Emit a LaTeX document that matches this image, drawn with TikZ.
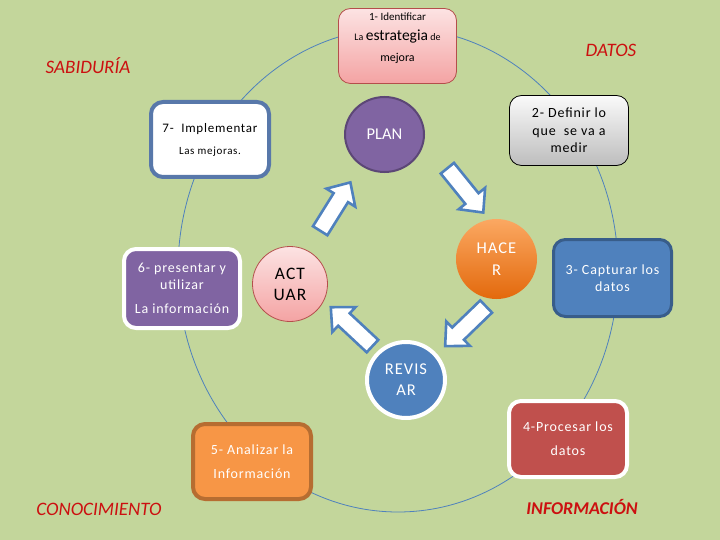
\documentclass[tikz,border=0pt]{standalone}
\usepackage{fontspec}
\setmainfont{Carlito}
\newfontfamily\boxfont[LetterSpace=6]{Carlito}
\usetikzlibrary{shapes.geometric}
\definecolor{bg}{HTML}{C3D69B}
\definecolor{ringblue}{HTML}{4F81BD}
\definecolor{pinkTop}{HTML}{FCE3E3}
\definecolor{pinkBot}{HTML}{F4A3A3}
\definecolor{pinkLine}{HTML}{B44E4B}
\definecolor{implLine}{HTML}{5878AA}
\definecolor{purpleFill}{HTML}{8064A2}
\definecolor{purpleLine}{HTML}{5C4776}
\definecolor{grayTop}{HTML}{FAFAFA}
\definecolor{grayBot}{HTML}{BDBDBD}
\definecolor{orangeTop}{HTML}{FBA862}
\definecolor{orangeBot}{HTML}{E3690C}
\definecolor{blueFill}{HTML}{4F81BD}
\definecolor{blueLine}{HTML}{385D8A}
\definecolor{redFill}{HTML}{C0504D}
\definecolor{orangeFill}{HTML}{F79646}
\definecolor{orangeLine}{HTML}{B66D31}
\definecolor{labelRed}{HTML}{CC1010}
\tikzset{
  rbox/.style={rectangle, rounded corners=12pt, inner sep=0pt, align=center},
  oval/.style={ellipse, inner sep=0pt, align=center},
  tag/.style={text=labelRed, font=\fontsize{19}{22}\selectfont\itshape},
  ring/.style={draw=ringblue, line width=0.8pt},
  blockarrow/.pic={\draw[draw=ringblue, fill=white, line width=2.6pt, line join=miter]
    (-28,-8.5) -- (11,-8.5) -- (11,-17) -- (29,0) -- (11,17) -- (11,8.5) -- (-28,8.5) -- cycle;}
}
\begin{document}
\begin{tikzpicture}[x=1pt,y=-1pt]
\fill[bg] (0,0) rectangle (720,540);
\useasboundingbox (0,0) rectangle (720,540);

% the cycle ring
\draw[ring] (398,270) ellipse [x radius=220pt, y radius=242pt];

% 1
\node[rbox, draw=pinkLine, line width=0.8pt, top color=pinkTop, bottom color=pinkBot,
      minimum width=118pt, minimum height=75pt] (s1) at (397.5,46) {};
\node[align=center, font=\fontsize{11}{20.5}\selectfont] (s1t) at (397.5,38)
  {1- Identificar\\{\fontsize{10}{10}\selectfont La} {\fontsize{15.5}{17}\selectfont estrategia} {\fontsize{10}{10}\selectfont de}\\{\fontsize{12}{14}\selectfont mejora}};

% 7
\node[rbox, draw=implLine, fill=white, line width=4pt, minimum width=118pt, minimum height=75pt,
      font=\boxfont\fontsize{11}{22}\selectfont] (s7) at (210,139.5)
  {{\fontsize{13}{14}\selectfont 7-\ \ Implementar}\\Las mejoras.};

% 2
\node[rbox, draw=black, line width=0.8pt, top color=grayTop, bottom color=grayBot,
      minimum width=119pt, minimum height=70pt, font=\boxfont\fontsize{14}{17.5}\selectfont] (s2) at (569,130.5)
  {2- Definir lo\\que\ \ se va a\\medir};

% 3
\node[rbox, draw=blueLine, fill=blueFill, line width=3pt, minimum width=118pt, minimum height=77pt,
      text=white, font=\boxfont\fontsize{14}{17}\selectfont] (s3) at (612.5,278)
  {3- Capturar los\\datos};

% 6
\node[rbox, draw=white, fill=purpleFill, line width=4pt, minimum width=116pt, minimum height=79pt,
      text=white, font=\boxfont\fontsize{14}{17}\selectfont] (s6) at (182,288.5)
  {6- presentar y\\utilizar\\[7pt]La información};

% 4
\node[rbox, draw=white, fill=redFill, line width=4pt, minimum width=118pt, minimum height=76pt,
      text=white, font=\boxfont\fontsize{14}{24}\selectfont] (s4) at (568,439)
  {4-Procesar los\\datos};

% 5
\node[rbox, draw=orangeLine, fill=orangeFill, line width=4pt, minimum width=118pt, minimum height=75pt,
      text=white, font=\boxfont\fontsize{14}{24}\selectfont] (s5) at (252,461.5)
  {5- Analizar la\\Información};

% PDCA circles
\node[oval, draw=purpleLine, fill=purpleFill, line width=2pt, minimum width=79pt, minimum height=75pt,
      text=white, font=\fontsize{16.5}{20}\selectfont] (plan) at (384.5,134.5) {PLAN};
\node[oval, top color=orangeTop, bottom color=orangeBot, minimum width=81pt, minimum height=80pt,
      text=white, font=\boxfont\fontsize{16.5}{22}\selectfont] (hacer) at (496.5,259) {HACE\\R};
\node[oval, draw=pinkLine, line width=0.8pt, top color=pinkTop, bottom color=pinkBot,
      minimum width=75pt, minimum height=75pt, font=\boxfont\fontsize{17.5}{21}\selectfont] (actuar) at (290,284) {ACT\\UAR};
\node[oval, draw=white, fill=blueFill, line width=4pt, minimum width=78pt, minimum height=76pt,
      text=white, font=\boxfont\fontsize{16.5}{21}\selectfont] (revisar) at (406,380) {REVIS\\AR};

% block arrows
\pic[rotate=58] at (335,207) {blockarrow};
\pic[rotate=-51] at (465,190) {blockarrow};
\pic[rotate=-136] at (466,326) {blockarrow};
\pic[rotate=137] at (352,327) {blockarrow};

% corner labels
\node[tag] (sab) at (88,66) {SABIDURÍA};
\node[tag] (dat) at (611,50) {DATOS};
\node[tag] (con) at (99,509) {CONOCIMIENTO};
\node[tag, font=\fontsize{18}{22}\selectfont\bfseries\itshape] (inf) at (582,507) {INFORMACIÓN};
\end{tikzpicture}
\end{document}
